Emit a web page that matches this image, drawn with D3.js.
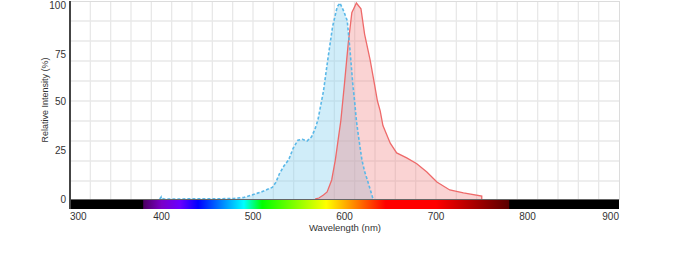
<!DOCTYPE html>
<html><head><meta charset="utf-8">
<script src="https://cdn.jsdelivr.net/npm/d3@7"></script>
<style>body{margin:0;background:#fff}svg{display:block}text{font-family:"Liberation Sans",Arial,sans-serif;fill:#333}</style>
</head><body><svg id="c" width="688" height="274"></svg>
<script>
// Excitation spectrum (blue, dashed)
const exWavelength = [398,400,402,410,420,430,440,450,460,470,480,490,497,505,511,516,521,525,529,534,539,544,549,554,559,564,568,571,577,582,587,592,595,599,603,606,609,611,613,615,619,622,625,628,631];
const exIntensity  = [0,1.2,0,0,0,0.1,0.1,0.1,0.1,0.2,0.3,0.8,1.8,3,3.9,5,5.9,8.5,13,17,20,26,30,30.5,29.6,31.7,36,40.5,55,72,88,98,100,96,91,76,59,50,40,33,20,14,9.7,5,0.3];
// Emission spectrum (red, solid)
const emWavelength = [568,572,577,581,586,590,593,596,600,604,608,613,618,622,628,633,636,639,642,650,657,668,679,690,701,715,730,750,750];
const emIntensity  = [0,0.5,2,3.6,9.7,20,30,40,59,79,95,100,97,84,71,58,50,45,37.5,28.5,23.5,21,18,13.8,8.7,4.6,3.1,1.5,0];
const xTicks = [300,400,500,600,700,800,900];
const yTicks = [0,25,50,75,100];
// visible spectrum colour bar stops (nm)
const specWl  = [380,400,420,440,490,510,580,645,700,780];
const specCol = ["#4b0060","#7a00c8","#6a00ff","#0000ff","#00ffff","#00ff00","#ffff00","#ff0000","#ff0000","#5a0000"];

const L=70,R=619,T=1,B=199;
const svg=d3.select("#c");
const x=d3.scaleLinear().domain([300,900]).range([L,R]);
const y=d3.scaleLinear().domain([0,100]).range([B,3]);

// grid
const g=svg.append("g");
d3.range(1,27).forEach(i=>{const gx=L+i*(R-L)/27;g.append("line").attr("x1",gx).attr("x2",gx).attr("y1",T).attr("y2",200).attr("stroke","#e8e8e8").attr("stroke-width",1.3);});
d3.range(1,10).forEach(j=>{const gy=T+j*20;g.append("line").attr("x1",L).attr("x2",R).attr("y1",gy).attr("y2",gy).attr("stroke","#e8e8e8").attr("stroke-width",1.3);});
svg.append("line").attr("x1",L).attr("x2",R).attr("y1",T+0.5).attr("y2",T+0.5).attr("stroke","#dcdcdc");
svg.append("line").attr("x1",R+0.5).attr("x2",R+0.5).attr("y1",T).attr("y2",200).attr("stroke","#dcdcdc");

const ex=exWavelength.map((w,i)=>[w,exIntensity[i]]);
const em=emWavelength.map((w,i)=>[w,emIntensity[i]]);
const area=d3.area().x(d=>x(d[0])).y0(y(0)).y1(d=>y(d[1]));
const line=d3.line().x(d=>x(d[0])).y(d=>y(d[1]));
svg.append("path").attr("d",area(ex)).attr("fill","#8ad3f0").attr("fill-opacity",0.4);
svg.append("path").attr("d",area(em)).attr("fill","#f28080").attr("fill-opacity",0.35);
svg.append("path").attr("d",line(em)).attr("fill","none").attr("stroke","#ee6a6a").attr("stroke-width",1.3);
svg.append("path").attr("d",line(ex)).attr("fill","none").attr("stroke","#5ab8e8").attr("stroke-width",1.6).attr("stroke-dasharray","3,2");

// spectrum bar
const defs=svg.append("defs");
const grad=defs.append("linearGradient").attr("id","spec").attr("gradientUnits","userSpaceOnUse").attr("x1",x(380)).attr("x2",x(780)).attr("y1",0).attr("y2",0);
specWl.forEach((w,i)=>grad.append("stop").attr("offset",(w-380)/400).attr("stop-color",specCol[i]));
svg.append("rect").attr("x",L).attr("y",200).attr("width",R-L).attr("height",9).attr("fill","#000");
svg.append("rect").attr("x",x(380)).attr("y",200).attr("width",x(780)-x(380)).attr("height",9).attr("fill","url(#spec)");
svg.append("line").attr("x1",L).attr("x2",R).attr("y1",199.5).attr("y2",199.5).attr("stroke","#666").attr("stroke-width",1);
// left axis
svg.append("line").attr("x1",L).attr("x2",L).attr("y1",T).attr("y2",209).attr("stroke","#444").attr("stroke-width",2);

// tick labels
xTicks.forEach((t,i)=>{
  const anchor=i===0?"start":(i===xTicks.length-1?"end":"middle");
  svg.append("text").attr("x",i===0?L:(i===xTicks.length-1?R:x(t))).attr("y",220).attr("font-size",10).attr("text-anchor",anchor).text(t);
});
yTicks.forEach(t=>{
  svg.append("text").attr("x",66).attr("y",y(t)+4+(t===100?2:t===75?2:0)).attr("font-size",10).attr("text-anchor","end").text(t);
});
svg.append("text").attr("x",345).attr("y",231).attr("font-size",9.5).attr("text-anchor","middle").text("Wavelength (nm)");
svg.append("text").attr("transform","translate(48,100) rotate(-90)").attr("font-size",9).attr("text-anchor","middle").text("Relative Intensity (%)");
</script></body></html>
